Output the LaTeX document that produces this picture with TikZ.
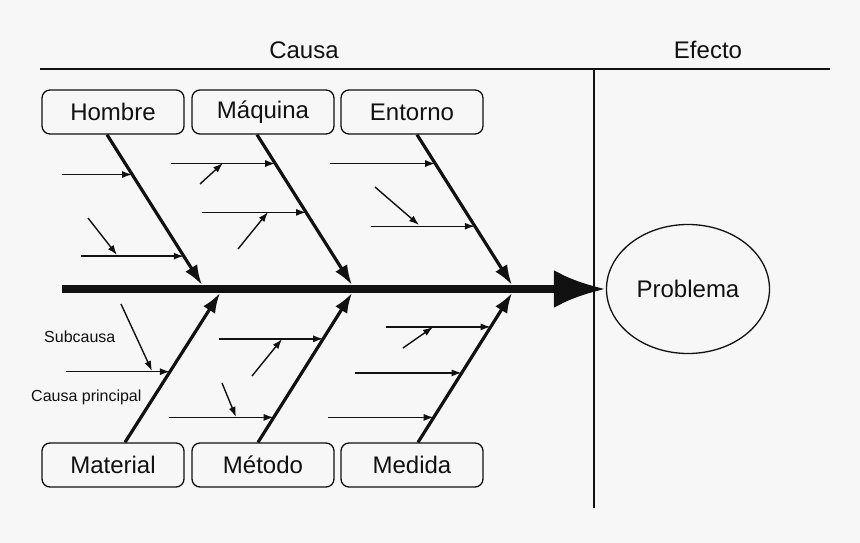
\documentclass[tikz,border=0pt]{standalone}
\usepackage{fontspec}
\setmainfont{Liberation Sans}
\usetikzlibrary{arrows.meta,shapes.geometric,calc}
\definecolor{fondo}{HTML}{F7F7F7}
\definecolor{trazo}{HTML}{111111}

\begin{document}
\begin{tikzpicture}[line join=miter,x=1pt,y=-1pt,color=trazo,
  cat/.style={draw,rounded corners=8pt,minimum width=142pt,minimum height=44pt,inner sep=0pt,line width=1.3pt,font=\fontsize{24}{28}\selectfont},
  bone/.style={line width=3.2pt,-{Latex[length=20pt,width=14pt]}},
  sub/.style={line width=1.4pt,-{Latex[length=10pt,width=7pt]}},
  lbl/.style={font=\fontsize{16}{19}\selectfont,inner sep=0pt,anchor=west}]
\useasboundingbox (0,0) rectangle (860,543);
\fill[fondo] (0,0) rectangle (860,543);
% encabezado
\node[font=\fontsize{24}{28}\selectfont] (causa) at (304,50) {Causa};
\node[font=\fontsize{24}{28}\selectfont] (efecto) at (708,50) {Efecto};
\coordinate (izq) at (40,69);
\coordinate (der) at (830,69);
\coordinate (sep) at (594,69);
\coordinate (sepb) at (594,508);
\draw[line width=1.5pt] (izq) -- (der);
\draw[line width=1.5pt] (sep) -- (sepb);
% categorias
\node[cat] (hom) at (113,112) {Hombre};
\node[cat] (maq) at (263,112) {Máquina};
\node[cat] (ent) at (412,112) {Entorno};
\node[cat] (mat) at (113,465) {Material};
\node[cat] (met) at (263,465) {Método};
\node[cat] (med) at (412,465) {Medida};
\node[ellipse,draw,line width=1.3pt,minimum width=163pt,minimum height=129pt,inner sep=0pt,font=\fontsize{24}{28}\selectfont] (prob) at (688,289) {Problema};
% espina
\coordinate (cola) at (62,289);
\draw[line width=8pt,-{Latex[length=52pt,width=38pt]}] (cola) -- (prob.west);
% espinas principales
\coordinate (hom0) at ($(hom.south)+(-6,0)$);
\coordinate (hom1) at (202,285);
\coordinate (maq0) at ($(maq.south)+(-6,0)$);
\coordinate (maq1) at (352,285);
\coordinate (ent0) at ($(ent.south)+(5,0)$);
\coordinate (ent1) at (512,285);
\coordinate (mat0) at ($(mat.north)+(12,0)$);
\coordinate (mat1) at (220,293);
\coordinate (met0) at ($(met.north)+(-5,0)$);
\coordinate (met1) at (352,293);
\coordinate (med0) at ($(med.north)+(6,0)$);
\coordinate (med1) at (512,293);
\foreach \b in {hom,maq,ent,mat,met,med}
  \draw[bone] (\b0) -- (\b1);
% causas
\foreach \b/\x/\t in {hom/62/0.265, hom/81/0.808, maq/171/0.192, maq/202/0.517,
    ent/330/0.192, ent/371/0.609, mat/66/0.473, met/219/0.693, met/169/0.167,
    med/386/0.773, med/355/0.465, med/328/0.167}{
  \coordinate (fin) at ($(\b0)!\t!(\b1)$);
  \coordinate (ini) at (\x,0 |- fin);
  \draw[sub] (ini) -- (fin);
}
% subcausas
\foreach \xa/\ya/\xb/\yb in {88/218/117/255, 200/184/223/163, 238/249/268/212,
    375/187/419/225, 121/304/152/371, 252/376/282/339, 222/383/236/417, 403/348/433/327}{
  \coordinate (p) at (\xa,\ya);
  \coordinate (q) at (\xb,\yb);
  \draw[sub] (p) -- (q);
}
\node[lbl] (subc) at (44,337) {Subcausa};
\node[lbl] (cprin) at (31,397) {Causa principal};
\end{tikzpicture}
\end{document}
